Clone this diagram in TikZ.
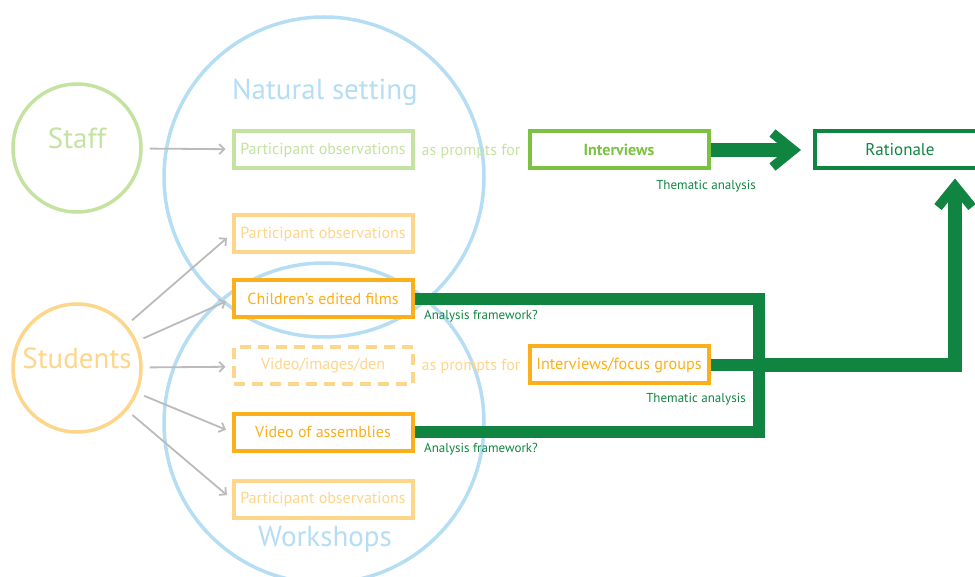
\documentclass[tikz,border=0pt]{standalone}
\usepackage{fontspec}
\setmainfont{PT Sans}
\usetikzlibrary{arrows.meta}

\definecolor{skyline}{HTML}{B5DDF3}
\definecolor{staffgreen}{HTML}{C4E3A0}
\definecolor{paleorange}{HTML}{FDD68B}
\definecolor{deeporange}{HTML}{FBB01B}
\definecolor{leafgreen}{HTML}{7CC242}
\definecolor{darkgreen}{HTML}{0F8541}
\definecolor{arrowgrey}{HTML}{BBBBBB}

\tikzset{
  databox/.style={rectangle,fill=white,line width=4pt,minimum width=179pt,minimum height=37pt,inner sep=0pt,font=\fontsize{16}{18}\selectfont},
  smalllabel/.style={text=darkgreen,font=\fontsize{13}{14}\selectfont},
  promptlabel/.style={font=\fontsize{16}{18}\selectfont},
  titlefont/.style={font=\fontsize{29}{31}\selectfont},
  bigline/.style={draw=darkgreen,line width=12pt,line join=miter},
  bigarrow/.style={draw=darkgreen,line width=14pt,line join=miter,-{Straight Barb[length=21pt,width=34pt,line width=9.5pt]}},
}

\begin{document}
\begin{tikzpicture}[x=1pt,y=-1pt]
\useasboundingbox (0,0) rectangle (975,577);

% settings
\begin{scope}[every node/.style={circle,draw=skyline,line width=3.5pt,minimum size=320pt,inner sep=0pt}]
    \node (natural) at (324,177) {};
    \node (workshops) at (324,423) {};
\end{scope}
\node[titlefont,text=skyline] (natural_title) at (325,92) {Natural setting};
\node[titlefont,text=skyline] (workshops_title) at (325,539) {Workshops};

% people
\begin{scope}[every node/.style={circle,line width=3.5pt,minimum size=128pt,inner sep=0pt}]
    \node[draw=staffgreen] (staff) at (77,148) {};
    \node[draw=paleorange] (students) at (77,368) {};
\end{scope}
\node[titlefont,text=staffgreen] (staff_name) at (77,138) {Staff};
\node[titlefont,text=paleorange] (students_name) at (77,358) {Students};

% data sources
\begin{scope}[every node/.style={databox}]
    \node[draw=staffgreen,text=staffgreen] (po_staff) at (323,150) {Participant observations};
    \node[draw=paleorange,text=paleorange] (po_natural) at (323,234) {Participant observations};
    \node[draw=deeporange,text=deeporange] (films) at (323,299) {Children’s edited films};
    \node[draw=paleorange,text=paleorange,dash pattern=on 11pt off 7pt] (video_den) at (323,366) {Video/images/den};
    \node[draw=deeporange,text=deeporange] (assemblies) at (323,432) {Video of assemblies};
    \node[draw=paleorange,text=paleorange] (po_workshops) at (323,499) {Participant observations};
    \node[draw=leafgreen,text=leafgreen,font=\fontsize{16}{18}\selectfont\bfseries] (interviews) at (619,150) {Interviews};
    \node[draw=deeporange,text=deeporange,font=\fontsize{16.2}{18}\selectfont] (focus) at (619,365) {Interviews/focus groups};
    \node[draw=darkgreen,text=darkgreen,minimum width=170pt,font=\fontsize{17}{19}\selectfont] (rationale) at (900,150) {Rationale};
\end{scope}

\node[promptlabel,text=staffgreen] (prompt_staff) at (471,151) {as prompts for};
\node[promptlabel,text=paleorange] (prompt_students) at (471,366) {as prompts for};

\node[smalllabel] (thematic_top) at (706,186) {Thematic analysis};
\node[smalllabel] (thematic_low) at (696,399) {Thematic analysis};
\node[smalllabel] (framework_films) at (481,316) {Analysis framework?};
\node[smalllabel] (framework_assemblies) at (481,449) {Analysis framework?};

\coordinate (join) at (759,365);

% who produces what
\begin{scope}[>={Straight Barb[length=5pt,width=10pt]},
              every edge/.style={draw=arrowgrey,line width=1.8pt,shorten <=7pt,shorten >=6pt}]
    \path [->] (staff) edge (po_staff);
    \path [->] (students) edge (po_natural.west);
    \path [->] (students) edge (films.west);
    \path [->] (students) edge (video_den);
    \path [->] (students) edge (assemblies.west);
    \path [->] (students) edge (po_workshops.west);
\end{scope}

% analysis
\draw[bigline] (films.east) -| (join) |- (assemblies.east);
\draw[bigline] (focus.east) -- (join);
\draw[bigarrow,shorten >=12pt] (interviews.east) -- (rationale.west);
\draw[bigarrow,shorten >=8pt] (join) -| ([xshift=55pt]rationale.south);
\end{tikzpicture}
\end{document}
